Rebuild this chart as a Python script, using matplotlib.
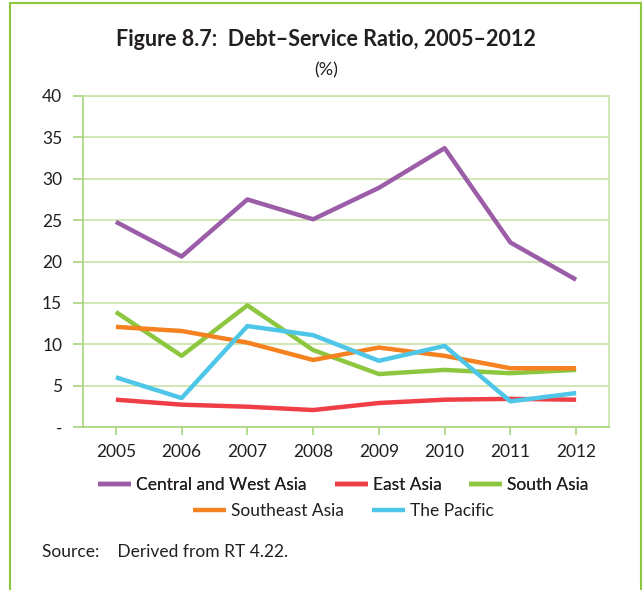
import numpy as np
import matplotlib.pyplot as plt
from matplotlib.lines import Line2D

plt.rcParams['font.family'] = ['Lato', 'DejaVu Sans']

years = [2005, 2006, 2007, 2008, 2009, 2010, 2011, 2012]
central_west = [24.8, 20.6, 27.5, 25.1, 28.9, 33.7, 22.3, 17.8]
east_asia = [3.3, 2.7, 2.45, 2.05, 2.9, 3.3, 3.4, 3.3]
south_asia = [13.9, 8.6, 14.7, 9.3, 6.4, 6.9, 6.5, 6.9]
southeast_asia = [12.1, 11.6, 10.2, 8.1, 9.6, 8.6, 7.1, 7.1]
pacific = [6.0, 3.5, 12.2, 11.1, 8.0, 9.8, 3.1, 4.1]

y_ticks = [0, 5, 10, 15, 20, 25, 30, 35, 40]
y_labels = ['-', '5', '10', '15', '20', '25', '30', '35', '40']

GREEN_FRAME = '#8dc63f'
GRID = '#c9e3a8'
TEXT = '#231f20'

series = [
    ('Central and West Asia', central_west, '#9b5ca8'),
    ('East Asia', east_asia, '#ef3e45'),
    ('South Asia', south_asia, '#8dc63f'),
    ('Southeast Asia', southeast_asia, '#f68121'),
    ('The Pacific', pacific, '#4dc6e8'),
]

fig = plt.figure(figsize=(6.42, 5.9), dpi=100)
W, H = 642, 590
ax = fig.add_axes([83 / W, 1 - 427 / H, (609 - 83) / W, (427 - 96) / H])

handles = []
for name, vals, col in series:
    h, = ax.plot(years, vals, color=col, lw=3.2, label=name, solid_capstyle='butt')
    handles.append(h)

ax.set_xlim(2004.5, 2012.5)
ax.set_ylim(0, 40)
ax.set_xticks(years)
ax.set_xticklabels([str(y) for y in years])
ax.set_yticks(y_ticks)
ax.set_yticklabels(y_labels)
ax.yaxis.grid(True, color=GRID, lw=1.2)
ax.set_axisbelow(True)
for s in ax.spines.values():
    s.set_color(GRID)
    s.set_linewidth(1.2)
ax.spines['left'].set_color('#a8d37a')
ax.spines['bottom'].set_color('#a8d37a')
ax.tick_params(axis='x', colors='#a8d37a', length=6, width=1.2, labelcolor=TEXT,
               labelsize=12.5, pad=6)
ax.tick_params(axis='y', colors='#a8d37a', length=7, width=1.2, labelcolor=TEXT,
               labelsize=12.5, pad=8)

fig.text(0.508, 1 - 40 / H, 'Figure 8.7:  Debt\u2013Service Ratio, 2005\u20132012',
         ha='center', va='center', fontsize=15.5, fontweight='bold', color=TEXT)
fig.text(0.508, 1 - 70 / H, '(%)', ha='center', va='center', fontsize=13,
         color=TEXT)

leg1 = fig.legend(handles[:3], [s[0] for s in series[:3]], ncol=3, frameon=False,
                  loc='center', bbox_to_anchor=(0.535, 1 - 485 / H), fontsize=12.5,
                  handlelength=1.9, handletextpad=0.3, columnspacing=1.6,
                  labelcolor=TEXT)
leg2 = fig.legend(handles[3:], [s[0] for s in series[3:]], ncol=2, frameon=False,
                  loc='center', bbox_to_anchor=(0.535, 1 - 511 / H), fontsize=12.5,
                  handlelength=1.9, handletextpad=0.3, columnspacing=1.6,
                  labelcolor=TEXT)
fig.add_artist(leg1)

fig.text(42 / W, 1 - 552 / H, 'Source:    Derived from RT 4.22.', ha='left', va='center',
         fontsize=12.5, color=TEXT)

# outer frame
fig.add_artist(Line2D([10 / W, 10 / W], [0, 1 - 3 / H], color=GREEN_FRAME, lw=1.5,
                      transform=fig.transFigure))
fig.add_artist(Line2D([10 / W, 641 / W], [1 - 3 / H, 1 - 3 / H], color=GREEN_FRAME,
                      lw=1.5, transform=fig.transFigure))
fig.add_artist(Line2D([641 / W, 641 / W], [0, 1 - 3 / H], color=GREEN_FRAME, lw=1.5,
                      transform=fig.transFigure))

fig.savefig('out.png', dpi=100)
